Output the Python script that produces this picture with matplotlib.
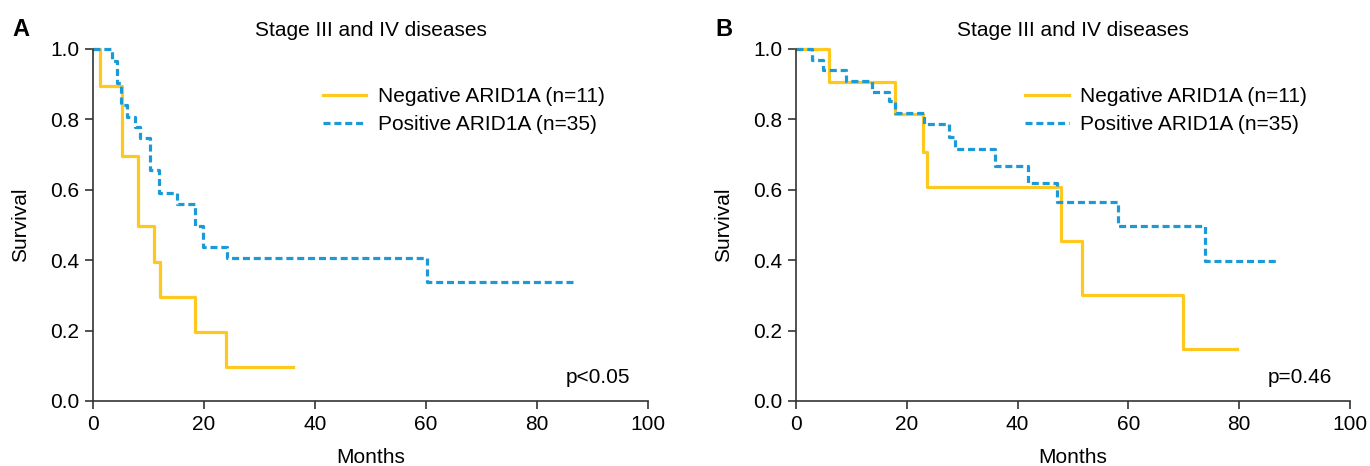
import matplotlib
matplotlib.use('Agg')
import matplotlib.pyplot as plt
from matplotlib import font_manager

# Kaplan-Meier curves (time in months, survival)
negA_t = [0, 1.2, 5.2, 8.1, 11.0, 12.1, 18.3, 24.0, 36.0]
negA_s = [1.0, 0.895, 0.695, 0.497, 0.395, 0.295, 0.195, 0.098, 0.098]
posA_t = [0, 3.4, 4.4, 5.0, 6.2, 7.6, 8.5, 10.3, 11.9, 15.1, 18.3, 19.8, 24.1, 60.1, 87.0]
posA_s = [1.0, 0.966, 0.903, 0.84, 0.808, 0.778, 0.747, 0.655, 0.592, 0.56, 0.497,
          0.437, 0.407, 0.338, 0.338]

negB_t = [0, 6.0, 17.9, 23.0, 23.7, 47.8, 51.6, 69.9, 79.6]
negB_s = [1.0, 0.905, 0.814, 0.707, 0.609, 0.455, 0.302, 0.148, 0.148]
posB_t = [0, 2.9, 4.8, 9.0, 13.8, 16.7, 17.9, 23.1, 27.7, 28.7, 36.0, 41.9, 47.2,
          58.1, 73.8, 87.0]
posB_s = [1.0, 0.969, 0.94, 0.909, 0.879, 0.852, 0.819, 0.786, 0.75, 0.715, 0.668,
          0.618, 0.566, 0.497, 0.398, 0.398]

labels = ['Negative ARID1A (n=11)', 'Positive ARID1A (n=35)']
pvals = ['p<0.05', 'p=0.46']
title = 'Stage III and IV diseases'

names = {f.name for f in font_manager.fontManager.ttflist}
fam = 'Liberation Sans Narrow' if 'Liberation Sans Narrow' in names else 'Liberation Sans'
plt.rcParams['font.family'] = [fam, 'DejaVu Sans']
fs = 15

yellow = '#FFC81E'
blue = '#1C9AD8'
axc = '#333333'

fig = plt.figure(figsize=(13.7, 4.66), dpi=100)
axA = fig.add_axes([93/1370, 65/466, 555/1370, 352/466])
axB = fig.add_axes([796/1370, 65/466, 554/1370, 352/466])

panels = [(axA, negA_t, negA_s, posA_t, posA_s, pvals[0], 'A'),
          (axB, negB_t, negB_s, posB_t, posB_s, pvals[1], 'B')]

for ax, nt, ns, pt, ps, pv, letter in panels:
    ax.step(nt, ns, where='post', color=yellow, lw=2.3, label=labels[0])
    ax.step(pt, ps, where='post', color=blue, lw=2.3, ls=(0, (2.2, 1.2)), label=labels[1])
    ax.set_xlim(0, 100)
    ax.set_ylim(0, 1.0)
    ax.set_xticks([0, 20, 40, 60, 80, 100])
    ax.set_yticks([0, 0.2, 0.4, 0.6, 0.8, 1.0])
    ax.set_yticklabels(['0.0', '0.2', '0.4', '0.6', '0.8', '1.0'])
    for s in ['top', 'right']:
        ax.spines[s].set_visible(False)
    for s in ['left', 'bottom']:
        ax.spines[s].set_color(axc)
        ax.spines[s].set_linewidth(1.2)
    ax.tick_params(direction='out', length=6, width=1.2, color=axc, labelsize=fs, pad=4)
    ax.set_xlabel('Months', fontsize=fs, labelpad=10)
    ax.set_ylabel('Survival', fontsize=fs, labelpad=14)
    ax.set_title(title, fontsize=fs, pad=9)
    ax.legend(loc='upper left', bbox_to_anchor=(0.38, 0.945), frameon=False,
              fontsize=fs, handlelength=2.1, handletextpad=0.55, labelspacing=0.45)
    ax.text(0.968, 0.068, pv, transform=ax.transAxes, ha='right', va='center', fontsize=fs)
    for ln in ax.lines:
        ln.set_clip_on(False)
    fig.text(ax.get_position().x0 - 81/1370, 1 - 30/466, letter, fontsize=17,
             fontweight='bold', ha='left', va='center')

fig.savefig('out.png', dpi=100)
